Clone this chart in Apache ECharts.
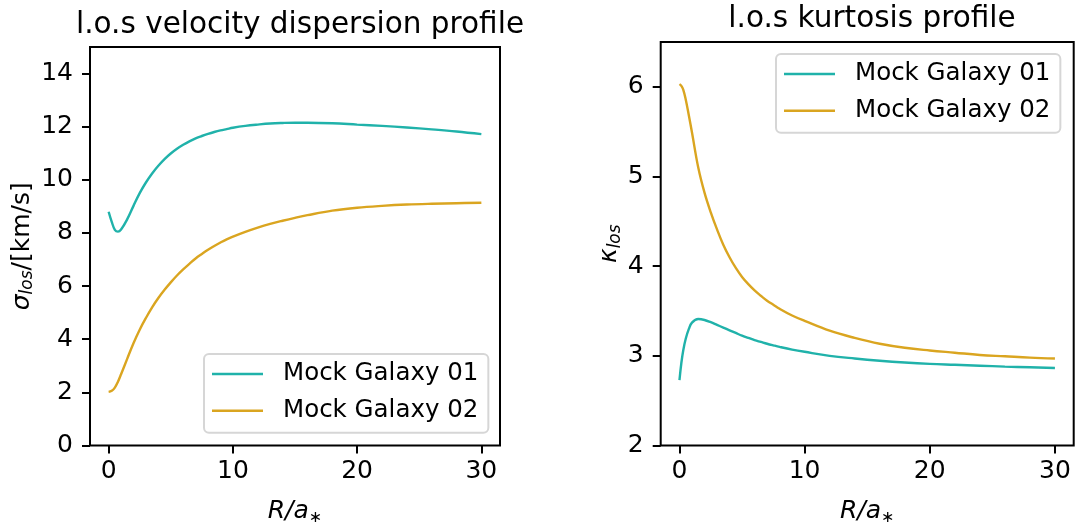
<!DOCTYPE html>
<html>
<head>
<meta charset="utf-8">
<script src="https://cdn.jsdelivr.net/npm/echarts@6/dist/echarts.min.js"></script>
<style>
html,body{margin:0;padding:0;background:#fff;}
#chart{width:1076px;height:523px;}
</style>
</head>
<body>
<div id="chart"></div>
<script>
// ---- data ----
const seriesNames = ['Mock Galaxy 01', 'Mock Galaxy 02'];
const titles = ['l.o.s velocity dispersion profile', 'l.o.s kurtosis profile'];
const xTicks = [0, 10, 20, 30];
const yTicksDisp = [0, 2, 4, 6, 8, 10, 12, 14];
const yTicksKurt = [2, 3, 4, 5, 6];

const xDisp = [0,0.25,0.5,0.75,1,1.5,2,2.5,3,3.5,4,4.5,5,5.5,6,6.5,7,7.5,8,8.5,9,9.5,10,11,12,13,14,15,16,18,20,22,24,26,28,30];
const dispGal01 = [8.8,8.42,8.12,8.05,8.13,8.52,9.02,9.5,9.9,10.24,10.53,10.78,10.99,11.17,11.32,11.45,11.56,11.65,11.73,11.8,11.86,11.91,11.96,12.03,12.08,12.12,12.14,12.15,12.15,12.13,12.08,12.03,11.97,11.9,11.82,11.72];
const dispGal02 = [2.02,2.06,2.18,2.4,2.68,3.27,3.85,4.36,4.8,5.2,5.55,5.86,6.14,6.4,6.63,6.84,7.04,7.21,7.37,7.51,7.64,7.76,7.86,8.04,8.2,8.34,8.46,8.57,8.67,8.84,8.95,9.02,9.07,9.1,9.12,9.14];

const xKurt = [0,0.15,0.3,0.5,0.75,1,1.5,2,2.5,3,3.5,4,4.5,5,5.5,6,6.5,7,7.5,8,9,10,12,14,16,18,20,22,24,26,28,30];
const kurtGal01 = [2.73,2.92,3.06,3.19,3.3,3.37,3.41,3.4,3.375,3.345,3.315,3.285,3.255,3.225,3.2,3.175,3.155,3.135,3.117,3.1,3.07,3.045,3.0,2.97,2.945,2.925,2.91,2.9,2.89,2.88,2.872,2.865];
const kurtGal02 = [6.03,6.01,5.97,5.86,5.68,5.49,5.1,4.82,4.6,4.41,4.24,4.1,3.98,3.88,3.8,3.73,3.67,3.615,3.57,3.525,3.45,3.39,3.28,3.2,3.135,3.09,3.06,3.035,3.01,2.995,2.98,2.97];

// ---- styling ----
const FONT = 'DejaVu Sans';
const colors = ['#20b2aa', '#daa520'];
const pair = (xs, ys) => xs.map((x, i) => [x, ys[i]]);

function xAxisOf(gi) {
  return {
    gridIndex: gi, type: 'value', min: -1.5, max: 31.5,
    axisLine: { show: false, onZero: false }, splitLine: { show: false },
    axisTick: { show: true, length: 8, lineStyle: { color: '#000', width: 2 }, customValues: xTicks },
    axisLabel: { customValues: xTicks, fontSize: 25, color: '#000', fontFamily: FONT, margin: 13 },
    name: '{i|R/a}{s|∗}', nameLocation: 'middle', nameGap: 52,
    nameTextStyle: {
      rich: {
        i: { fontSize: 25, fontStyle: 'italic', fontFamily: FONT, color: '#000', lineHeight: 28 },
        s: { fontSize: 16, fontFamily: FONT, color: '#000', lineHeight: 20, verticalAlign: 'bottom' }
      }
    }
  };
}
function yAxisOf(gi, mn, mx, ticks, name, gap) {
  return {
    gridIndex: gi, type: 'value', min: mn, max: mx,
    axisLine: { show: false, onZero: false }, splitLine: { show: false },
    axisTick: { show: true, length: 8, lineStyle: { color: '#000', width: 2 }, customValues: ticks },
    axisLabel: { customValues: ticks, fontSize: 25, color: '#000', fontFamily: FONT, margin: 17 },
    name: name, nameLocation: 'middle', nameGap: gap, nameRotate: 90,
    nameTextStyle: {
      rich: {
        g: { fontSize: 25, fontStyle: 'italic', fontFamily: FONT, color: '#000', lineHeight: 28 },
        sub: { fontSize: 17, fontStyle: 'italic', fontFamily: FONT, color: '#000', lineHeight: 17, verticalAlign: 'bottom' },
        n: { fontSize: 25, fontFamily: FONT, color: '#000', lineHeight: 28 }
      }
    }
  };
}
function lineSeries(name, xi, data, color) {
  return {
    name: name, type: 'line', xAxisIndex: xi, yAxisIndex: xi,
    data: data, showSymbol: false, symbol: 'none', smooth: 0.4,
    lineStyle: { color: color, width: 2.4 }, itemStyle: { color: color },
    emphasis: { disabled: true }, animation: false
  };
}
function legendOf(left, top) {
  return {
    orient: 'vertical', left: left, top: top,
    data: seriesNames, icon: 'rect', itemWidth: 51, itemHeight: 2.5, itemGap: 6.7,
    backgroundColor: '#fff', borderColor: '#d6d6d6', borderWidth: 2, borderRadius: 5,
    padding: [5, 10, 7, 8],
    selectedMode: false,
    textStyle: { fontSize: 24.5, color: '#000', fontFamily: FONT, lineHeight: 30, padding: [0, 0, 0, 15] }
  };
}

const chart = echarts.init(document.getElementById('chart'), null, { renderer: 'canvas' });
chart.setOption({
  animation: false,
  backgroundColor: '#fff',
  title: [
    { text: titles[0], left: 295, top: 5, textAlign: 'center', textStyle: { fontSize: 29.5, fontWeight: 'normal', color: '#000', fontFamily: FONT } },
    { text: titles[1], left: 867, top: -1, textAlign: 'center', textStyle: { fontSize: 29.5, fontWeight: 'normal', color: '#000', fontFamily: FONT } }
  ],
  grid: [
    { left: 90, top: 47, width: 410, height: 398.5, show: true, borderColor: '#000', borderWidth: 2, backgroundColor: 'transparent', containLabel: false, outerBoundsMode: 'none' },
    { left: 660.7, top: 42, width: 413, height: 403.5, show: true, borderColor: '#000', borderWidth: 2, backgroundColor: 'transparent', containLabel: false, outerBoundsMode: 'none' }
  ],
  xAxis: [xAxisOf(0), xAxisOf(1)],
  yAxis: [
    yAxisOf(0, 0, 15, yTicksDisp, '{g|σ}{sub|los}{n|/[km/s]}', 54),
    yAxisOf(1, 2, 6.5, yTicksKurt, '{g|κ}{sub|los}', 36)
  ],
  legend: [
    Object.assign(legendOf(204, 354), { id: 'l0' }),
    Object.assign(legendOf(776, 54), { id: 'l1' })
  ],
  series: [
    lineSeries(seriesNames[0], 0, pair(xDisp, dispGal01), colors[0]),
    lineSeries(seriesNames[1], 0, pair(xDisp, dispGal02), colors[1]),
    lineSeries(seriesNames[0], 1, pair(xKurt, kurtGal01), colors[0]),
    lineSeries(seriesNames[1], 1, pair(xKurt, kurtGal02), colors[1])
  ]
});
</script>
</body>
</html>
